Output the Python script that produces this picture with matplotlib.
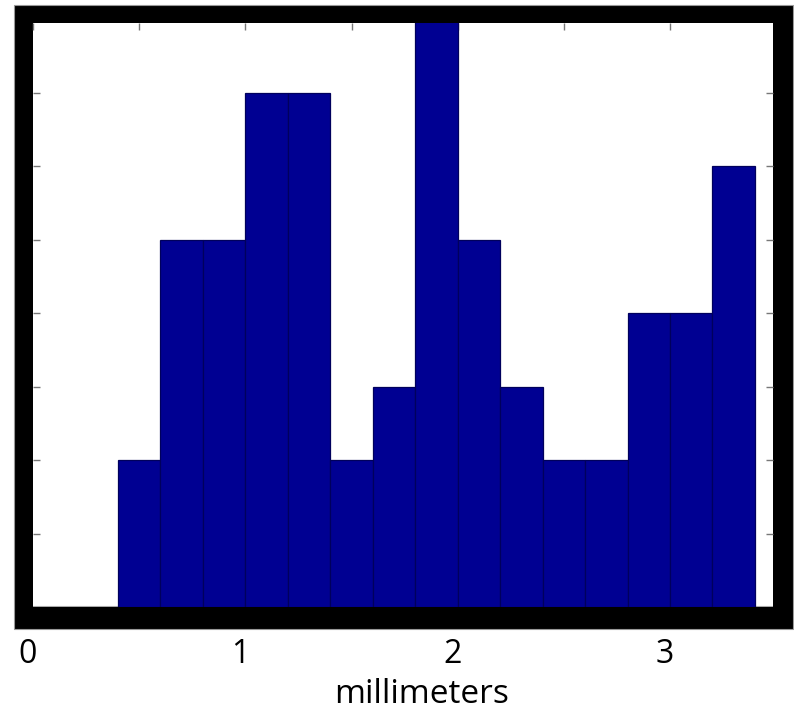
import matplotlib
matplotlib.use("Agg")
import matplotlib.pyplot as plt
from matplotlib.patches import Rectangle
from matplotlib.transforms import ScaledTranslation
import numpy as np

# Histogram data (bin edges in millimeters, counts per bin)
bin_edges = [0.4, 0.6, 0.8, 1.0, 1.2, 1.4, 1.6, 1.8, 2.0, 2.2, 2.4, 2.6, 2.8, 3.0, 3.2, 3.4]
counts = [2, 5, 5, 7, 7, 2, 3, 8, 5, 3, 2, 2, 4, 4, 6]
xtick_values = [0, 1, 2, 3]
xtick_labels = ["0", "1", "2", "3"]
xlabel_text = "millimeters"

W, H = 794, 712
fig = plt.figure(figsize=(W / 100, H / 100), dpi=100)
fig.patch.set_facecolor("white")

# thick black frame behind the axes
fig.patches.append(Rectangle((14 / W, 1 - 629 / H), (793 - 14) / W, (629 - 5) / H,
                             transform=fig.transFigure, facecolor="black",
                             edgecolor="#999999", linewidth=0.8, zorder=-5))

left, right, top, bottom = 33, 773, 23, 607
ax = fig.add_axes([left / W, 1 - bottom / H, (right - left) / W, (bottom - top) / H])
ax.set_facecolor("white")

edges = np.array(bin_edges)
ax.bar(edges[:-1], counts, width=np.diff(edges), align="edge",
       color="#000092", edgecolor="#00005c", linewidth=0.9, zorder=2)

ax.set_xlim(0, 3.485)
ax.set_ylim(0, 7.95)

for s in ax.spines.values():
    s.set_visible(False)
ax.axhline(0, color="#aaaaaa", linewidth=1.5, zorder=1)

ax.set_xticks(xtick_values)
ax.set_xticklabels(xtick_labels, family="Open Sans")
ax.set_xticks(np.arange(0.5, 3.5, 1.0), minor=True)
ax.set_yticks(range(1, 8))
ax.set_yticklabels([])
ax.tick_params(axis="both", which="both", direction="in", color="#777777",
               length=5, width=1, top=True, right=True, left=True, bottom=False)
ax.tick_params(axis="x", which="major", labelsize=23, pad=22, colors="#777777", labelcolor="black")
for lab in ax.get_xticklabels():
    lab.set_transform(lab.get_transform() + ScaledTranslation(-5 / 100, 0, fig.dpi_scale_trans))

fig.text(422 / W, 1 - 703 / H, xlabel_text, ha="center", va="baseline", fontsize=24,
         family="Open Sans")

fig.savefig("out.png", dpi=100)
